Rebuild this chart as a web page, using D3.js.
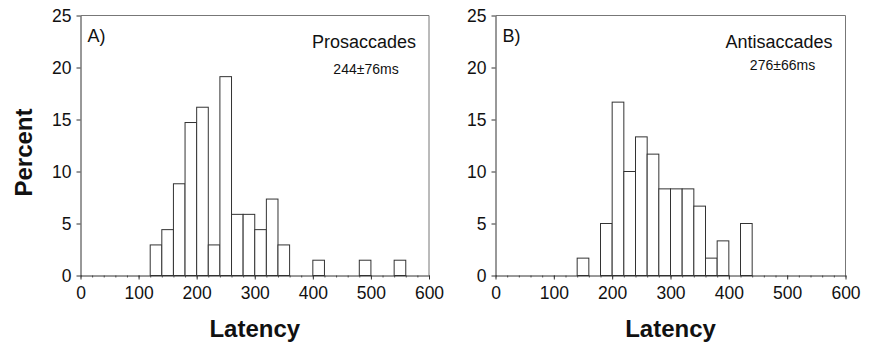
<!DOCTYPE html>
<html>
<head>
<meta charset="utf-8">
<script src="https://cdn.jsdelivr.net/npm/d3@7"></script>
<style>
  body { margin: 0; background: #fff; }
  svg text { font-family: "Liberation Sans", Arial, Helvetica, sans-serif; fill: #111; }
</style>
</head>
<body>
<div id="chart"></div>
<script>
// Histogram data: left edge of each 20 ms bin and its percentage
const binWidth = 20;

const binStartsA = [120, 140, 160, 180, 200, 220, 240, 260, 280, 300, 320, 340, 400, 480, 540];
const percentA = [2.94, 4.41, 8.82, 14.71, 16.18, 2.94, 19.12, 5.88, 5.88, 4.41, 7.35, 2.94, 1.47, 1.47, 1.47];

const binStartsB = [140, 180, 200, 220, 240, 260, 280, 300, 320, 340, 360, 380, 420];
const percentB = [1.67, 5, 16.67, 10, 13.33, 11.67, 8.33, 8.33, 8.33, 6.67, 1.67, 3.33, 5];

const xTicks = [0, 100, 200, 300, 400, 500, 600];
const yTicks = [0, 5, 10, 15, 20, 25];

const panelLetters = ["A)", "B)"];
const panelTitles = ["Prosaccades", "Antisaccades"];
const panelStats = ["244\u00b176ms", "276\u00b166ms"];

const width = 874;
const height = 346;

const svg = d3.select("#chart")
  .append("svg")
  .attr("width", width)
  .attr("height", height);

// Y axis title, shared by both panels
svg.append("text")
  .attr("transform", "translate(32,152.5) rotate(-90)")
  .attr("text-anchor", "middle")
  .attr("font-weight", "bold")
  .style("font-size", "24px")
  .text("Percent");

const panels = [
  { left: 80.5, right: 429, starts: binStartsA, values: percentA },
  { left: 495.5, right: 845.5, starts: binStartsB, values: percentB }
];
const plotTop = 15.5;
const plotBottom = 275.5;

panels.forEach((p, i) => {
  const x = d3.scaleLinear().domain([0, 600]).range([p.left, p.right]);
  const y = d3.scaleLinear().domain([0, 25]).range([plotBottom, plotTop]);

  const g = svg.append("g");

  // frame: top and right edges
  g.append("path")
    .attr("d", `M${p.left},${plotTop}H${p.right}V${plotBottom}`)
    .attr("fill", "none")
    .attr("stroke", "#777")
    .attr("stroke-width", 1);

  // bars
  g.selectAll(".bar")
    .data(p.starts.map((s, j) => ({ start: s, value: p.values[j] })))
    .enter()
    .append("rect")
    .attr("class", "bar")
    .attr("x", (d) => x(d.start))
    .attr("y", (d) => y(d.value))
    .attr("width", (d) => x(d.start + binWidth) - x(d.start))
    .attr("height", (d) => y(0) - y(d.value))
    .attr("fill", "#fff")
    .attr("stroke", "#333")
    .attr("stroke-width", 1);

  // minor x ticks every 20
  const xMinor = d3.axisBottom(x)
    .tickValues(d3.range(0, 601, 20))
    .tickSize(2)
    .tickFormat("");
  g.append("g")
    .attr("transform", `translate(0,${plotBottom})`)
    .call(xMinor)
    .call((a) => a.select(".domain").remove())
    .call((a) => a.selectAll("line").attr("stroke", "#555"));

  // x axis
  const xAxis = d3.axisBottom(x)
    .tickValues(xTicks)
    .tickSize(4)
    .tickPadding(7)
    .tickSizeOuter(0);
  g.append("g")
    .attr("transform", `translate(0,${plotBottom})`)
    .call(xAxis)
    .call((a) => a.select(".domain").attr("stroke", "#333"))
    .call((a) => a.selectAll("line").attr("stroke", "#333"))
    .call((a) => a.selectAll("text")
      .style("font-size", "17.5px")
      .attr("font-family", null));

  // y axis
  const yAxis = d3.axisLeft(y)
    .tickValues(yTicks)
    .tickSize(4)
    .tickPadding(5)
    .tickSizeOuter(0);
  g.append("g")
    .attr("transform", `translate(${p.left},0)`)
    .call(yAxis)
    .call((a) => a.select(".domain").attr("stroke", "#333"))
    .call((a) => a.selectAll("line").attr("stroke", "#333"))
    .call((a) => a.selectAll("text")
      .style("font-size", "17.5px")
      .attr("font-family", null));

  // x axis title
  g.append("text")
    .attr("x", (p.left + p.right) / 2)
    .attr("y", 336.5)
    .attr("text-anchor", "middle")
    .attr("font-weight", "bold")
    .style("font-size", "24px")
    .text("Latency");

  // panel letter
  g.append("text")
    .attr("x", p.left + 7)
    .attr("y", 41.5)
    .style("font-size", "18px")
    .text(panelLetters[i]);

  // condition name and mean±sd
  g.append("text")
    .attr("x", p.right - 13)
    .attr("y", 47.5)
    .attr("text-anchor", "end")
    .style("font-size", "18px")
    .text(panelTitles[i]);

  g.append("text")
    .attr("x", p.right - 63)
    .attr("y", i === 0 ? 74 : 70)
    .attr("text-anchor", "middle")
    .style("font-size", "14px")
    .text(panelStats[i]);
});
</script>
</body>
</html>
